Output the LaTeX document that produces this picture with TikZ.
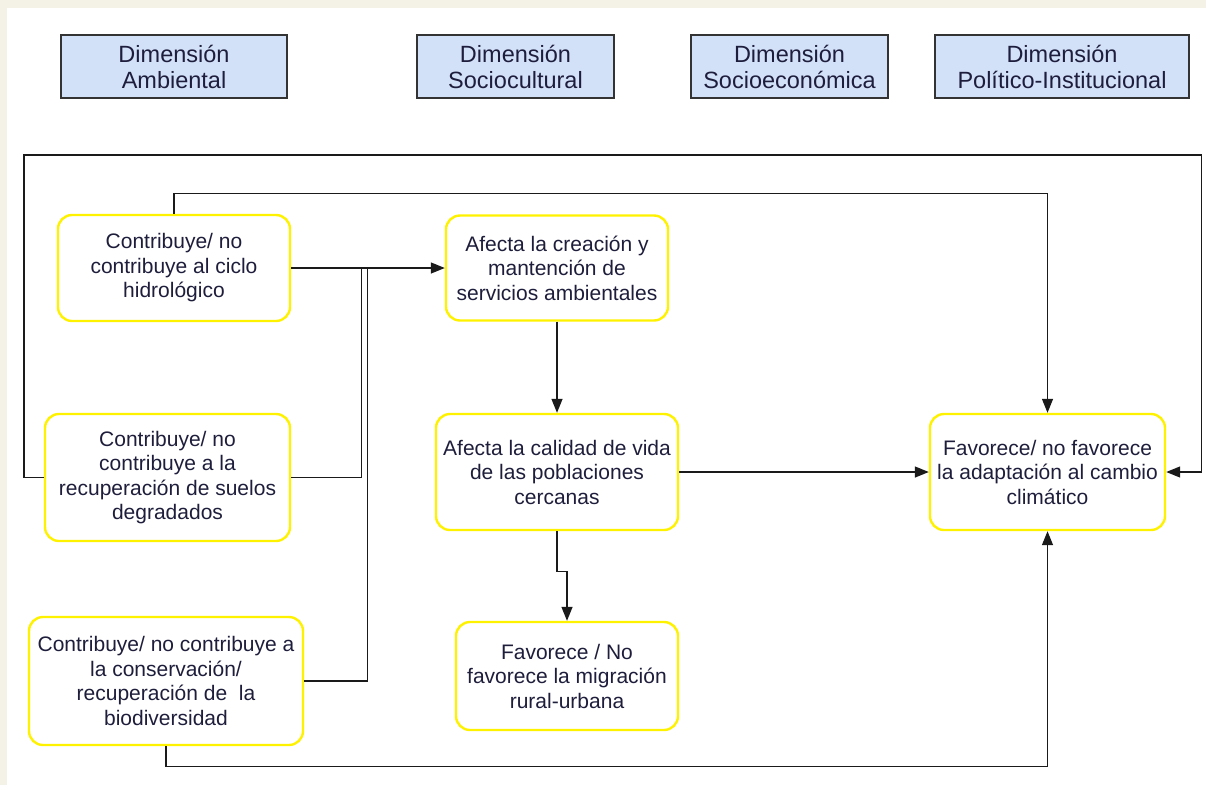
\documentclass[tikz,border=0pt]{standalone}
\usepackage{fontspec}
\setmainfont{Liberation Sans}
\usetikzlibrary{arrows.meta}
\definecolor{beige}{HTML}{F4F1E7}
\definecolor{hdrfill}{HTML}{D2E0F8}
\definecolor{hdrline}{HTML}{333333}
\definecolor{txt}{HTML}{1E1E3C}
\definecolor{lnk}{HTML}{1A1A1A}
\begin{document}
\begin{tikzpicture}[x=1pt,y=-1pt,
 hdr/.style={draw=hdrline, line width=1.3pt, fill=hdrfill, inner sep=0pt, text=txt, align=center, font=\fontsize{23.5}{26}\selectfont},
 ybox/.style={draw=yellow, line width=2.4pt, fill=white, rounded corners=14pt, inner sep=0pt, text=txt, align=center, font=\fontsize{21}{24.5}\selectfont},
 link/.style={draw=lnk, line width=1.3pt},
 arr/.style={link, -{Triangle[length=14pt,width=11pt]}},
]
\useasboundingbox (0,0) rectangle (1206,785);
\fill[beige] (0,0) rectangle (1206,785);
\fill[white] (7,8) rectangle (1206,785);

% headers
\node[hdr, minimum width=226pt, minimum height=63pt] (h1) at (174,66.5) {Dimensión\\Ambiental};
\node[hdr, minimum width=197pt, minimum height=63pt] (h2) at (515.5,66.5) {Dimensión\\Sociocultural};
\node[hdr, minimum width=197pt, minimum height=63pt] (h3) at (789.5,66.5) {Dimensión\\Socioeconómica};
\node[hdr, minimum width=254pt, minimum height=63pt] (h4) at (1062,66.5) {Dimensión\\Político-Institucional};

% boxes
\node[ybox, minimum width=232pt, minimum height=106pt] (a1) at (174,268) {Contribuye/ no\\contribuye al ciclo\\hidrológico};
\node[ybox, minimum width=245pt, minimum height=127pt] (a2) at (167.5,477.5) {Contribuye/ no\\contribuye a la\\recuperación de suelos\\degradados};
\node[ybox, minimum width=274pt, minimum height=128pt] (a3) at (166,681) {Contribuye/ no contribuye a\\la conservación/\\recuperación de\ \ la\\biodiversidad};
\node[ybox, minimum width=222pt, minimum height=105pt] (b1) at (557,268) {Afecta la creación y\\mantención de\\servicios ambientales};
\node[ybox, minimum width=242pt, minimum height=116pt] (b2) at (557,472) {Afecta la calidad de vida\\de las poblaciones\\cercanas};
\node[ybox, minimum width=222pt, minimum height=108pt] (b3) at (567,676) {Favorece / No\\favorece la migración\\rural-urbana};
\node[ybox, minimum width=235pt, minimum height=116pt] (c) at (1047.5,472) {Favorece/ no favorece\\la adaptación al cambio\\climático};

% junction coordinates
\coordinate (j1) at (361.5,268);
\coordinate (j2) at (367.5,268);
\coordinate (o1) at (24,155);
\coordinate (o2) at (1201.5,155);
\coordinate (t1) at (174,193.5);
\coordinate (u1) at (166,766.5);

% connectors
\draw[arr] (a1.east) -- (b1.west);
\draw[link] (a2.east) -| (j1);
\draw[link] (a3.east) -| (j2);
\draw[arr] (a2.west) -| (o1) -- (o2) |- (c.east);
\draw[arr] (a1.north) -- (t1) -| (c.north);
\draw[arr] (a3.south) -- (u1) -| (c.south);
\draw[arr] (b1.south) -- (b2.north);
\draw[arr] (b2.east) -- (c.west);
\draw[arr] (b2.south) -- ++(0,40) -| (b3.north);
\end{tikzpicture}
\end{document}
